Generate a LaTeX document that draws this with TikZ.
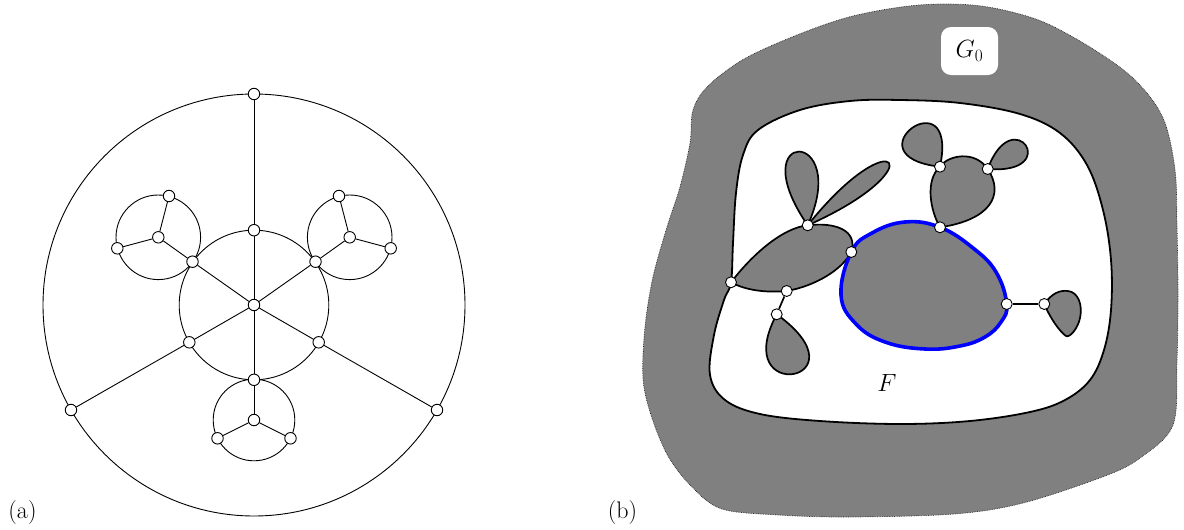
\documentclass[tikz,border=0pt]{standalone}
\usepackage{fontspec}
\begin{document}
\begin{tikzpicture}[x=1pt,y=-1pt,
  thinln/.style={line width=0.9pt},
  vtxA/.style={circle,draw,fill=white,inner sep=0pt,minimum size=11.5pt,line width=0.9pt},
  vtxB/.style={circle,draw,fill=white,inner sep=0pt,minimum size=11pt,line width=0.9pt},
  blob/.style={draw=black,fill=gray,line width=1.7pt,line join=round},
  outerblob/.style={fill=gray,draw=black!85,densely dotted,line width=0.7pt},
  innerw/.style={fill=white,draw=black,line width=1.8pt},
  blueblob/.style={fill=gray,draw=blue,line width=3.6pt},
  edgeB/.style={draw=black,line width=1.7pt},
  lbl/.style={font=\fontsize{24}{28}\selectfont,inner sep=0pt}]
\useasboundingbox (0,0) rectangle (1184,530);

% ---------------- (a) ----------------
\coordinate (cC) at (254,305);
\coordinate (cUL) at (158.3,237.3);
\coordinate (cUR) at (349.7,237.3);
\coordinate (cB) at (254,420);
\draw[thinln] (cC) circle[radius=211pt];
\draw[thinln] (cC) circle[radius=74.8pt];
\draw[thinln] (cUL) circle[radius=42.3pt];
\draw[thinln] (cUR) circle[radius=42.3pt];
\draw[thinln] (cB) circle[radius=40.8pt];

\node[vtxA] (C) at (254,305) {};
\node[vtxA] (T) at (254,94) {};
\node[vtxA] (LL) at (71,410) {};
\node[vtxA] (LR) at (437,410) {};
\node[vtxA] (I1) at (254,230.2) {};
\node[vtxA] (Iul) at (192.5,261.7) {};
\node[vtxA] (Iur) at (315.5,261.7) {};
\node[vtxA] (Ill) at (189.3,342.3) {};
\node[vtxA] (Ilr) at (318.7,342.3) {};
\node[vtxA] (Ib) at (254,379.8) {};
\node[vtxA] (UL) at (158.3,237.3) {};
\node[vtxA] (UR) at (349.7,237.3) {};
\node[vtxA] (ul1) at (169,196) {};
\node[vtxA] (ul2) at (117.3,248.3) {};
\node[vtxA] (ur1) at (339,196) {};
\node[vtxA] (ur2) at (390.7,248.3) {};
\node[vtxA] (SB) at (254,420) {};
\node[vtxA] (b1) at (217.5,438.3) {};
\node[vtxA] (b2) at (290.5,438.3) {};

\draw[thinln] (C) -- (I1) -- (T);
\draw[thinln] (C) -- (Iul) -- (UL);
\draw[thinln] (UL) -- (ul1);
\draw[thinln] (UL) -- (ul2);
\draw[thinln] (C) -- (Iur) -- (UR);
\draw[thinln] (UR) -- (ur1);
\draw[thinln] (UR) -- (ur2);
\draw[thinln] (C) -- (Ill) -- (LL);
\draw[thinln] (C) -- (Ilr) -- (LR);
\draw[thinln] (C) -- (Ib) -- (SB);
\draw[thinln] (SB) -- (b1);
\draw[thinln] (SB) -- (b2);

\node[lbl,anchor=base] (la) at (22.5,518) {(a)};

% ---------------- (b) ----------------
\draw[outerblob] plot[smooth cycle, tension=0.55] coordinates {
 (901,7) (943,4) (988,7) (1041,21) (1093,49) (1135,80) (1163,118) (1175,170)
 (1177,227) (1178,293) (1177,360) (1173,425) (1140,458) (1105,476) (1023,503)
 (954,514) (849,517) (779,515) (722,509) (692,487) (668,456) (651,415)
 (643,378) (645,327) (653,277) (667,227) (680,187) (690,143) (693,110)
 (708,86) (744,59) (797,35) (849,17)};

\draw[innerw] plot[smooth cycle, tension=0.6] coordinates {
 (900,100) (960,103) (1020,114) (1060,133) (1087,165) (1103,210) (1111,260)
 (1111,310) (1104,350) (1090,380) (1065,400) (1030,412) (970,421) (900,424)
 (820,421) (760,414) (725,400) (710,375) (714,335) (724,300) (731,282.3)
 (733,243) (736,193) (743,155) (758,130) (800,110) (850,101)};

% coordinates of the joints
\coordinate (pA) at (731,282.3);
\coordinate (pN1) at (807.7,225.3);
\coordinate (pN2) at (851.3,252);
\coordinate (pN3) at (786.7,291);
\coordinate (pN4) at (776.7,314.3);
\coordinate (pT1) at (940,166.7);
\coordinate (pT2) at (987.7,169);
\coordinate (pT3) at (940,227.3);
\coordinate (pR1) at (1006.7,304);
\coordinate (pR2) at (1044.3,304);

% ears and small blobs
\draw[blob] (pN1) .. controls (740,127) and (852,127) .. (pN1);
\draw[blob] (pN1) .. controls (895,116) and (937,168) .. (pN1);
\draw[blob] (pN4) .. controls (727.8,405.9) and (870,381.9) .. (pN4);
\draw[blob] (pT1) .. controls (846,156.1) and (959.4,74.1) .. (pT1);
\draw[blob] (pT2) .. controls (1013,100) and (1064,175) .. (pT2);
\draw[blob] (pR2) .. controls (1052,293) and (1060,290) .. (1068,291)
  .. controls (1078,292) and (1083,305) .. (1080,318)
  .. controls (1078,328) and (1070,338) .. (1066,336)
  .. controls (1060,332) and (1050,318) .. (pR2);

% left body
\draw[blob] (pA) .. controls (752,255) and (782,228) .. (pN1)
  .. controls (835,222) and (858,230) .. (pN2)
  .. controls (842,270) and (815,286) .. (pN3)
  .. controls (765,293) and (745,290) .. cycle;

% top body
\draw[blob] (pT1) .. controls (948,155) and (975,150) .. (pT2)
  .. controls (1005,195) and (990,220) .. (pT3)
  .. controls (930,210) and (925,180) .. cycle;

% blue face
\draw[blueblob] plot[smooth cycle, tension=0.7] coordinates {
 (851.3,252) (872,233) (905,222) (940,227.3) (973,248) (996,272) (1006.7,304)
 (1001,322) (985,337) (960,346) (925,349) (885,342) (856,324) (841,295)};

\node[vtxB] (vA) at (pA) {};
\node[vtxB] (vN1) at (pN1) {};
\node[vtxB] (vN2) at (pN2) {};
\node[vtxB] (vN3) at (pN3) {};
\node[vtxB] (vN4) at (pN4) {};
\node[vtxB] (vT1) at (pT1) {};
\node[vtxB] (vT2) at (pT2) {};
\node[vtxB] (vT3) at (pT3) {};
\node[vtxB] (vR1) at (pR1) {};
\node[vtxB] (vR2) at (pR2) {};
\draw[edgeB] (vN3) -- (vN4);
\draw[edgeB] (vR1) -- (vR2);

\node[lbl,fill=white,rounded corners=10pt,minimum width=57pt,minimum height=48pt] (G0) at (969.5,51) {$G_0$};
\node[lbl] (F) at (887,383) {$F$};
\node[lbl,anchor=base] (lb) at (622.5,518) {(b)};
\end{tikzpicture}
\end{document}
